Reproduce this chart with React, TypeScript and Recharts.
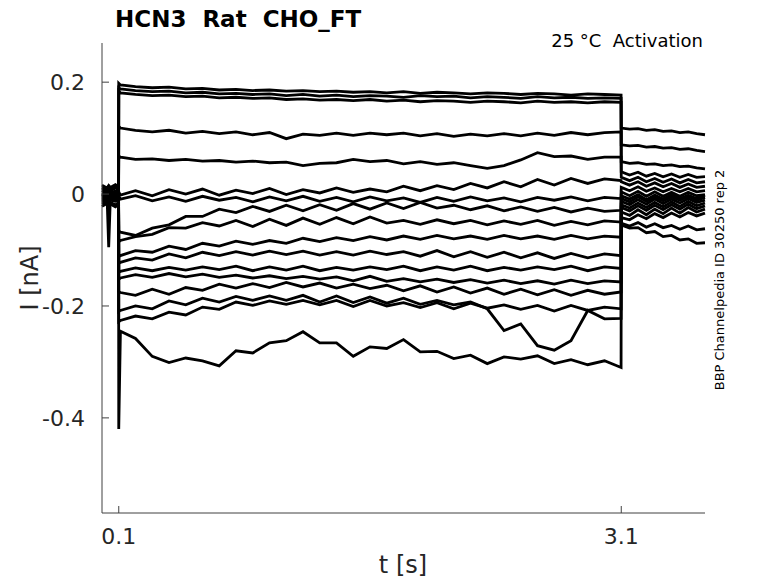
import React from 'react';
import { LineChart, Line, XAxis, YAxis } from 'recharts';

// sample times [s]: holding, voltage step (0.1 - 3.1 s), tail
const TIME = [
  0, 0.03, 0.04, 0.05, 0.08, 0.099,
  0.1, 0.11, 0.2, 0.3, 0.4, 0.5, 0.6, 0.7,
  0.8, 0.9, 1.0, 1.1, 1.2, 1.3, 1.4, 1.5,
  1.6, 1.7, 1.8, 1.9, 2.0, 2.1, 2.2, 2.3,
  2.4, 2.5, 2.6, 2.7, 2.8, 2.9, 3.0, 3.099,
  3.1, 3.15, 3.2, 3.25, 3.3, 3.35, 3.4, 3.45, 3.5, 3.55, 3.6,
];

// currents [nA], one array per sweep
const sweep01 = [
  0.012, 0.008, 0.014, 0.009, 0.013, 0.01,
  0.198, 0.195, 0.192, 0.19, 0.191, 0.188, 0.189, 0.186,
  0.187, 0.185, 0.186, 0.184, 0.185, 0.183, 0.184, 0.182,
  0.183, 0.181, 0.183, 0.18, 0.182, 0.181, 0.179, 0.181,
  0.18, 0.178, 0.18, 0.179, 0.177, 0.179, 0.178, 0.177,
  0.118, 0.116, 0.117, 0.114, 0.115, 0.112, 0.113, 0.11, 0.111, 0.108, 0.106,
];
const sweep02 = [
  -0.002, 0.001, -0.001, 0.002, -0.003, 0.0,
  0.19, 0.188, 0.185, 0.183, 0.184, 0.181, 0.182, 0.179,
  0.18, 0.178, 0.179, 0.176, 0.178, 0.175, 0.177, 0.174,
  0.176, 0.175, 0.173, 0.176, 0.174, 0.175, 0.172, 0.174,
  0.173, 0.171, 0.174, 0.172, 0.173, 0.171, 0.172, 0.171,
  0.088, 0.086, 0.087, 0.084, 0.085, 0.082, 0.083, 0.08, 0.081, 0.078, 0.076,
];
const sweep03 = [
  0.006, 0.003, 0.005, 0.002, 0.004, 0.003,
  0.184, 0.181, 0.178, 0.176, 0.177, 0.174, 0.175, 0.172,
  0.173, 0.171, 0.172, 0.169, 0.17, 0.168, 0.169, 0.167,
  0.169, 0.166, 0.168, 0.165, 0.167, 0.166, 0.164, 0.166,
  0.165, 0.163, 0.166, 0.164, 0.165, 0.163, 0.165, 0.164,
  0.058, 0.055, 0.056, 0.053, 0.054, 0.051, 0.052, 0.049, 0.05, 0.047, 0.045,
];
const sweep04 = [
  0.016, 0.011, 0.015, 0.012, 0.017, 0.013,
  0.121, 0.118, 0.114, 0.111, 0.114, 0.109, 0.112, 0.108,
  0.111, 0.106, 0.11, 0.099, 0.107, 0.105, 0.109, 0.105,
  0.109, 0.106, 0.109, 0.104, 0.108, 0.103, 0.107, 0.104,
  0.108, 0.104, 0.109, 0.105, 0.11, 0.106, 0.11, 0.111,
  0.04, 0.034, 0.039, 0.032, 0.037, 0.031, 0.036, 0.03, 0.035, 0.03, 0.031,
];
const sweep05 = [
  -0.004, -0.001, -0.003, 0.0, -0.002, -0.001,
  0.068, 0.066, 0.062, 0.063, 0.06, 0.062, 0.059, 0.06,
  0.057, 0.059, 0.056, 0.057, 0.051, 0.055, 0.056, 0.062,
  0.058, 0.06, 0.054, 0.058, 0.053, 0.056, 0.051, 0.046,
  0.051, 0.061, 0.074, 0.067, 0.068, 0.062, 0.066, 0.066,
  0.03, 0.024, 0.03, 0.022, 0.028, 0.021, 0.027, 0.02, 0.026, 0.02, 0.022,
];
const sweep06 = [
  0.01, 0.007, 0.009, 0.006, 0.011, 0.008,
  0.004, -0.002, 0.006, -0.003, 0.008, 0.0, 0.009, -0.002,
  0.007, 0.001, 0.01, -0.001, 0.008, 0.002, 0.011, 0.003,
  0.009, 0.004, 0.014, 0.006, 0.015, 0.008, 0.019, 0.011,
  0.022, 0.013, 0.026, 0.016, 0.028, 0.019, 0.027, 0.024,
  0.022, 0.016, 0.022, 0.014, 0.02, 0.013, 0.019, 0.012, 0.018, 0.012, 0.014,
];
const sweep07 = [
  -0.006, -0.003, -0.005, -0.002, -0.004, -0.003,
  -0.004, -0.009, -0.003, -0.012, -0.005, -0.013, -0.004, -0.011,
  -0.006, -0.014, -0.005, -0.012, -0.004, -0.013, -0.006, -0.014,
  -0.005, -0.012, -0.007, -0.015, -0.006, -0.013, -0.005, -0.012,
  -0.007, -0.014, -0.006, -0.011, -0.005, -0.012, -0.006, -0.008,
  0.012, 0.006, 0.013, 0.005, 0.011, 0.004, 0.01, 0.004, 0.01, 0.004, 0.006,
];
const sweep08 = [
  -0.001, -0.004, -0.095, -0.006, -0.003, -0.002,
  -0.066, -0.068, -0.074, -0.061, -0.055, -0.04, -0.04, -0.027,
  -0.033, -0.022, -0.031, -0.02, -0.03, -0.019, -0.029, -0.017,
  -0.027, -0.016, -0.026, -0.015, -0.025, -0.02, -0.028, -0.021,
  -0.03, -0.023, -0.031, -0.024, -0.032, -0.025, -0.031, -0.029,
  0.004, -0.003, 0.005, -0.004, 0.004, -0.004, 0.003, -0.004, 0.003, -0.003, -0.001,
];
const sweep09 = [
  0.002, -0.001, 0.001, -0.002, 0.003, 0.0,
  -0.085, -0.083, -0.076, -0.072, -0.06, -0.061, -0.051, -0.057,
  -0.047, -0.058, -0.045, -0.056, -0.043, -0.054, -0.042, -0.053,
  -0.041, -0.052, -0.047, -0.054, -0.046, -0.053, -0.047, -0.055,
  -0.048, -0.054, -0.047, -0.056, -0.049, -0.055, -0.048, -0.05,
  -0.003, -0.009, -0.001, -0.01, -0.002, -0.009, -0.001, -0.008, -0.002, -0.008, -0.002,
];
const sweep10 = [
  -0.008, -0.005, -0.007, -0.004, -0.006, -0.005,
  -0.112, -0.11, -0.101, -0.104, -0.093, -0.099, -0.088, -0.093,
  -0.084, -0.09, -0.083, -0.088, -0.079, -0.085, -0.078, -0.083,
  -0.076, -0.082, -0.075, -0.081, -0.074, -0.08, -0.075, -0.081,
  -0.074, -0.08, -0.075, -0.081, -0.074, -0.08, -0.075, -0.077,
  -0.008, -0.014, -0.005, -0.013, -0.006, -0.012, -0.005, -0.011, -0.004, -0.011, -0.006,
];
const sweep11 = [
  -0.014, -0.01, -0.015, -0.011, -0.013, -0.012,
  -0.124, -0.122, -0.114, -0.118, -0.107, -0.114, -0.104, -0.11,
  -0.103, -0.109, -0.102, -0.108, -0.102, -0.109, -0.103, -0.109,
  -0.102, -0.108, -0.103, -0.111, -0.101, -0.112, -0.103, -0.113,
  -0.104, -0.114, -0.105, -0.115, -0.106, -0.114, -0.107, -0.11,
  -0.013, -0.019, -0.01, -0.018, -0.009, -0.017, -0.009, -0.016, -0.008, -0.015, -0.011,
];
const sweep12 = [
  -0.01, -0.007, -0.009, -0.006, -0.008, -0.007,
  -0.14, -0.138, -0.132, -0.137, -0.131, -0.136, -0.13, -0.135,
  -0.129, -0.137, -0.13, -0.136, -0.129, -0.137, -0.131, -0.136,
  -0.13, -0.135, -0.129, -0.137, -0.13, -0.136, -0.129, -0.137,
  -0.131, -0.136, -0.13, -0.135, -0.129, -0.137, -0.13, -0.133,
  -0.019, -0.025, -0.016, -0.024, -0.015, -0.023, -0.014, -0.022, -0.013, -0.021, -0.016,
];
const sweep13 = [
  -0.018, -0.014, -0.02, -0.015, -0.019, -0.016,
  -0.152, -0.15, -0.144, -0.149, -0.142, -0.148, -0.143, -0.149,
  -0.145, -0.15, -0.146, -0.151, -0.147, -0.152, -0.148, -0.155,
  -0.147, -0.156, -0.151, -0.157, -0.152, -0.158, -0.153, -0.159,
  -0.154, -0.16, -0.155, -0.161, -0.154, -0.16, -0.155, -0.157,
  -0.024, -0.03, -0.021, -0.029, -0.02, -0.028, -0.019, -0.027, -0.018, -0.026, -0.021,
];
const sweep14 = [
  -0.003, 0.0, -0.002, 0.001, -0.001, 0.0,
  -0.174, -0.176, -0.181, -0.17, -0.179, -0.167, -0.172, -0.161,
  -0.168, -0.16, -0.167, -0.158, -0.166, -0.159, -0.168, -0.161,
  -0.169, -0.163, -0.173, -0.164, -0.175, -0.166, -0.177, -0.168,
  -0.179, -0.17, -0.18, -0.171, -0.181, -0.172, -0.179, -0.175,
  -0.032, -0.038, -0.028, -0.037, -0.027, -0.035, -0.025, -0.034, -0.024, -0.032, -0.027,
];
const sweep15 = [
  0.007, 0.004, 0.006, 0.003, 0.005, 0.004,
  -0.21, -0.208, -0.2, -0.205, -0.191, -0.198, -0.186, -0.193,
  -0.183, -0.19, -0.182, -0.19, -0.181, -0.193, -0.182, -0.194,
  -0.184, -0.195, -0.186, -0.197, -0.19, -0.198, -0.193, -0.205,
  -0.244, -0.232, -0.271, -0.279, -0.262, -0.208, -0.223, -0.222,
  -0.042, -0.046, -0.037, -0.044, -0.035, -0.042, -0.034, -0.041, -0.033, -0.039, -0.034,
];
const sweep16 = [
  -0.012, -0.009, -0.011, -0.008, -0.01, -0.009,
  -0.228, -0.226, -0.218, -0.223, -0.211, -0.216, -0.202, -0.206,
  -0.193, -0.199, -0.191, -0.197, -0.19, -0.198, -0.19, -0.201,
  -0.19, -0.2, -0.194, -0.203, -0.194, -0.205, -0.195, -0.204,
  -0.198, -0.206, -0.199, -0.209, -0.199, -0.208, -0.202, -0.205,
  -0.052, -0.057, -0.051, -0.059, -0.053, -0.06, -0.056, -0.063, -0.057, -0.064, -0.062,
];
const sweep17 = [
  -0.022, -0.017, -0.021, -0.018, -0.023, -0.019,
  -0.42, -0.245, -0.258, -0.29, -0.301, -0.293, -0.298, -0.307,
  -0.28, -0.284, -0.266, -0.262, -0.246, -0.266, -0.266, -0.29,
  -0.273, -0.276, -0.26, -0.282, -0.281, -0.294, -0.288, -0.303,
  -0.291, -0.295, -0.289, -0.303, -0.296, -0.305, -0.298, -0.31,
  -0.055, -0.061, -0.06, -0.069, -0.067, -0.076, -0.074, -0.082, -0.08, -0.088, -0.087,
];

const SWEEPS = [
  sweep01, sweep02, sweep03, sweep04, sweep05, sweep06, sweep07, sweep08, sweep09,
  sweep10, sweep11, sweep12, sweep13, sweep14, sweep15, sweep16, sweep17,
];

const X_TICKS = [0.1, 3.1];
const Y_TICKS = [-0.4, -0.2, 0, 0.2];

const rows = TIME.map((t, k) => {
  const row: Record<string, number> = { t };
  SWEEPS.forEach((s, j) => {
    row['s' + j] = s[k];
  });
  return row;
});

const FONT = '"DejaVu Sans", sans-serif';
const INK = '#262626';
const AXIS = '#404040';

const XTick = (props: any) => {
  const { x, y, payload } = props;
  return (
    <g>
      <line x1={x} x2={x} y1={y} y2={y - 7} stroke={AXIS} />
      <text x={x} y={y + 31} textAnchor="middle" fontSize={22} fill={INK} fontFamily={FONT}>
        {payload.value}
      </text>
    </g>
  );
};

const YTick = (props: any) => {
  const { x, y, payload } = props;
  return (
    <g>
      <line x1={x} x2={x + 7} y1={y} y2={y} stroke={AXIS} />
      <text x={x - 17} y={y + 8} textAnchor="end" fontSize={22} fill={INK} fontFamily={FONT}>
        {String(payload.value)}
      </text>
    </g>
  );
};

export default function App() {
  return (
    <div style={{ position: 'relative', width: 778, height: 583, background: '#fff' }}>
      <style>{'body{margin:0}'}</style>
      <LineChart
        width={778}
        height={583}
        data={rows}
        margin={{ top: 43, right: 73, bottom: 0, left: 0 }}
      >
        <XAxis
          dataKey="t"
          type="number"
          domain={[0, 3.6]}
          ticks={X_TICKS}
          interval={0}
          height={70}
          tickSize={0}
          tickMargin={0}
          tickLine={false}
          axisLine={{ stroke: AXIS }}
          tick={<XTick />}
        />
        <YAxis
          type="number"
          domain={[-0.57, 0.27]}
          ticks={Y_TICKS}
          interval={0}
          width={102}
          tickSize={0}
          tickMargin={0}
          tickLine={false}
          axisLine={{ stroke: AXIS }}
          tick={<YTick />}
        />
        {SWEEPS.map((_, j) => (
          <Line
            key={j}
            dataKey={'s' + j}
            type="linear"
            stroke="#000"
            strokeWidth={2.8}
            strokeLinejoin="miter"
            dot={false}
            isAnimationActive={false}
          />
        ))}
      </LineChart>
      <svg
        width={778}
        height={583}
        style={{ position: 'absolute', left: 0, top: 0, pointerEvents: 'none' }}
      >
        <text x={115} y={27} fontSize={23} fontWeight="bold" fill="#000" fontFamily={FONT} style={{ whiteSpace: 'pre' }}>
          HCN3  Rat  CHO_FT
        </text>
        <text x={703} y={47} fontSize={18} textAnchor="end" fill="#000" fontFamily={FONT} style={{ whiteSpace: 'pre' }}>
          25 °C  Activation
        </text>
        <text x={403} y={573} fontSize={24} textAnchor="middle" fill={INK} fontFamily={FONT}>
          t [s]
        </text>
        <text
          transform="translate(38,278) rotate(-90)"
          fontSize={24}
          textAnchor="middle"
          fill={INK}
          fontFamily={FONT}
        >
          I [nA]
        </text>
        <text
          transform="translate(724,280) rotate(-90)"
          fontSize={13}
          textAnchor="middle"
          fill="#000"
          fontFamily={FONT}
        >
          BBP Channelpedia ID 30250 rep 2
        </text>
      </svg>
    </div>
  );
}
